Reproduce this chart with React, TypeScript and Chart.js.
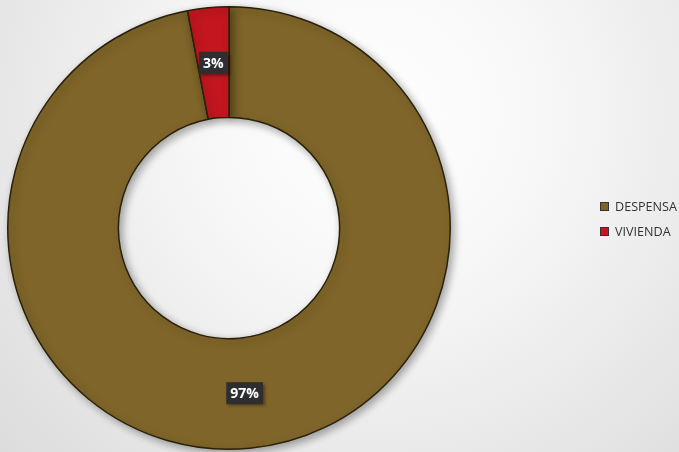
import React, { useEffect, useRef } from 'react';
import { Chart, registerables } from 'chart.js';

Chart.register(...registerables);

const categories = ['DESPENSA', 'VIVIENDA'];
const shares = [97, 3];
const sliceColors = ['#7f6529', '#c3161f'];

const shadowPlugin = {
  id: 'ringShadow',
  beforeDatasetsDraw(chart: any) {
    const ctx = chart.ctx;
    ctx.save();
    ctx.shadowColor = 'rgba(0,0,0,0.35)';
    ctx.shadowBlur = 8;
    ctx.shadowOffsetX = 3;
    ctx.shadowOffsetY = 3;
  },
  afterDatasetsDraw(chart: any) {
    chart.ctx.restore();
  },
};

const labelPlugin = {
  id: 'pctLabels',
  afterDraw(chart: any) {
    const ctx = chart.ctx;
    const meta = chart.getDatasetMeta(0);
    const total = shares.reduce((a, b) => a + b, 0);
    ctx.save();
    ctx.font = 'bold 14px "Open Sans", sans-serif';
    ctx.textAlign = 'center';
    ctx.textBaseline = 'middle';
    meta.data.forEach((arc: any, i: number) => {
      const p = arc.tooltipPosition();
      const txt = Math.round((shares[i] / total) * 100) + '%';
      const w = ctx.measureText(txt).width + 8;
      const h = 22;
      ctx.shadowColor = 'rgba(0,0,0,0.4)';
      ctx.shadowBlur = 3;
      ctx.shadowOffsetX = 2;
      ctx.shadowOffsetY = 2;
      ctx.fillStyle = '#2e2e30';
      ctx.fillRect(p.x - w / 2, p.y - h / 2, w, h);
      ctx.shadowColor = 'transparent';
      ctx.fillStyle = '#ffffff';
      ctx.fillText(txt, p.x, p.y + 1);
    });
    ctx.restore();
  },
};

export default function App() {
  const canvasRef = useRef<HTMLCanvasElement>(null);
  useEffect(() => {
    const ctx = canvasRef.current!.getContext('2d')!;
    const chart = new Chart(ctx, {
      type: 'doughnut',
      data: {
        labels: categories,
        datasets: [{
          data: shares,
          backgroundColor: sliceColors,
          borderColor: '#2a210a',
          borderWidth: 1.5,
        }]
      },
      options: {
        responsive: true,
        maintainAspectRatio: false,
        animation: false,
        cutout: '50%',
        layout: { padding: { left: 7, right: 228, top: 6, bottom: 2 } },
        plugins: { legend: { display: false }, tooltip: { enabled: false } },
      },
      plugins: [shadowPlugin, labelPlugin],
    });
    return () => chart.destroy();
  }, []);

  return (
    <div style={{
      position: 'absolute', left: 0, top: 0, width: 679, height: 452, overflow: 'hidden',
      background: 'radial-gradient(circle at 55% 25%, #ffffff 0%, #f7f7f7 35%, #dcdcdc 100%)',
    }}>
      <canvas ref={canvasRef} aria-label="Doughnut chart DESPENSA / VIVIENDA"></canvas>
      <div style={{ position: 'absolute', left: 600, top: 194, fontFamily: '"Open Sans", sans-serif', fontSize: 12.6, color: '#333333' }}>
        {categories.map((c, i) => (
          <div key={c} style={{ display: 'flex', alignItems: 'center', height: 25 }}>
            <span style={{ width: 7, height: 7, background: sliceColors[i], border: '0.5px solid #333', marginRight: 6, display: 'inline-block' }} />
            <span>{c}</span>
          </div>
        ))}
      </div>
    </div>
  );
}
